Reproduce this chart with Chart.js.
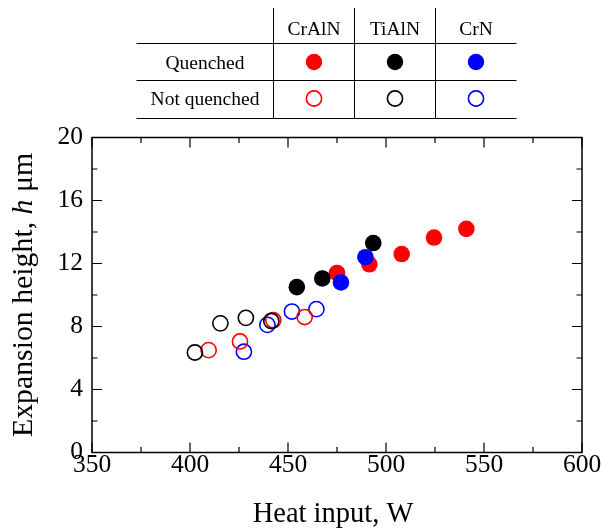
<!DOCTYPE html>
<html><head><meta charset="utf-8">
<script src="https://cdn.jsdelivr.net/npm/chart.js@4/dist/chart.umd.min.js"></script>
<style>html,body{margin:0;padding:0;background:#fff;}canvas{display:block}</style>
</head><body>
<canvas id="c" width="603" height="529"></canvas>
<script>
// ---- data ----
const crAlnQuenchedX = [475, 491.5, 508, 524.5, 541];
const crAlnQuenchedY = [11.4, 11.95, 12.6, 13.65, 14.2];
const tiAlnQuenchedX = [454.5, 467.5, 493.5];
const tiAlnQuenchedY = [10.5, 11.05, 13.3];
const crnQuenchedX = [477, 489.5];
const crnQuenchedY = [10.8, 12.4];
const crAlnNotX = [409.5, 425.5, 442.5, 458.5];
const crAlnNotY = [6.5, 7.05, 8.4, 8.6];
const tiAlnNotX = [402.5, 415.5, 428.5, 441.5];
const tiAlnNotY = [6.35, 8.2, 8.55, 8.35];
const crnNotX = [427.5, 439.5, 452, 464.5];
const crnNotY = [6.4, 8.1, 8.95, 9.1];

const xTickLabels = [350, 400, 450, 500, 550, 600];
const yTickLabels = [0, 4, 8, 12, 16, 20];

const legendColumns = ['CrAlN', 'TiAlN', 'CrN'];
const legendRows = ['Quenched', 'Not quenched'];
const legendColors = ['#ff0000', '#000000', '#0000ff'];

const xTitle = 'Heat input, W';
const yTitleParts = [['Expansion height, ', false], ['h', true], [' \u03bcm', false]];

const SERIF = '"Liberation Serif", "Times New Roman", serif';

function pts(xs, ys) { return xs.map((x, i) => ({ x: x, y: ys[i] })); }
function filled(label, xs, ys, color) {
  return { label, data: pts(xs, ys), backgroundColor: color, borderColor: color,
    borderWidth: 0, pointRadius: 8.3, pointHoverRadius: 8.3 };
}
function open(label, xs, ys, color) {
  return { label, data: pts(xs, ys), backgroundColor: 'rgba(0,0,0,0)', borderColor: color,
    borderWidth: 1.6, pointRadius: 7.6, pointHoverRadius: 7.6 };
}

// first dataset is drawn on top
const datasets = [
  filled('CrN quenched', crnQuenchedX, crnQuenchedY, legendColors[2]),
  filled('TiAlN quenched', tiAlnQuenchedX, tiAlnQuenchedY, legendColors[1]),
  filled('CrAlN quenched', crAlnQuenchedX, crAlnQuenchedY, legendColors[0]),
  open('TiAlN not quenched', tiAlnNotX, tiAlnNotY, legendColors[1]),
  open('CrAlN not quenched', crAlnNotX, crAlnNotY, legendColors[0]),
  open('CrN not quenched', crnNotX, crnNotY, legendColors[2])
];

const framePlugin = {
  id: 'frame',
  afterDraw(chart) {
    const ctx = chart.ctx;
    const a = chart.chartArea;
    const xs = chart.scales.x, ys = chart.scales.y;
    ctx.save();
    ctx.strokeStyle = '#000';
    ctx.lineWidth = 1.5;
    ctx.strokeRect(a.left, a.top, a.right - a.left, a.bottom - a.top);
    ctx.lineWidth = 1.2;
    ctx.beginPath();
    const major = 10, minor = 5.5;
    for (let i = 0; i < xTickLabels.length; i++) {
      const v = xTickLabels[i];
      const p = xs.getPixelForValue(v);
      ctx.moveTo(p, a.bottom); ctx.lineTo(p, a.bottom - major);
      ctx.moveTo(p, a.top); ctx.lineTo(p, a.top + major);
      if (i < xTickLabels.length - 1) {
        const m = xs.getPixelForValue((v + xTickLabels[i + 1]) / 2);
        ctx.moveTo(m, a.bottom); ctx.lineTo(m, a.bottom - minor);
        ctx.moveTo(m, a.top); ctx.lineTo(m, a.top + minor);
      }
    }
    for (let i = 0; i < yTickLabels.length; i++) {
      const v = yTickLabels[i];
      const p = ys.getPixelForValue(v);
      ctx.moveTo(a.left, p); ctx.lineTo(a.left + major, p);
      ctx.moveTo(a.right, p); ctx.lineTo(a.right - major, p);
      if (i < yTickLabels.length - 1) {
        const m = ys.getPixelForValue((v + yTickLabels[i + 1]) / 2);
        ctx.moveTo(a.left, m); ctx.lineTo(a.left + minor, m);
        ctx.moveTo(a.right, m); ctx.lineTo(a.right - minor, m);
      }
    }
    ctx.stroke();

    // axis titles
    ctx.fillStyle = '#000';
    ctx.font = '28.5px ' + SERIF;
    ctx.textAlign = 'center';
    ctx.textBaseline = 'alphabetic';
    ctx.fillText(xTitle, (a.left + a.right) / 2 - 4, 521.5);

    ctx.save();
    ctx.translate(32, 295);
    ctx.rotate(-Math.PI / 2);
    ctx.textAlign = 'left';
    const yFont = '29.8px ' + SERIF;
    let total = 0;
    const widths = yTitleParts.map(([t, it]) => {
      ctx.font = (it ? 'italic ' : '') + yFont;
      const w = ctx.measureText(t).width; total += w; return w;
    });
    let x0 = -total / 2;
    yTitleParts.forEach(([t, it], i) => {
      ctx.font = (it ? 'italic ' : '') + yFont;
      ctx.fillText(t, x0, 0);
      x0 += widths[i];
    });
    ctx.restore();

    // legend table
    ctx.lineWidth = 1;
    ctx.strokeStyle = '#000';
    const tl = 136.5, tr = 516.5;
    const vx = [273.5, 354.5, 435.5];
    const hy = [43.5, 80.5, 118.5];
    ctx.beginPath();
    hy.forEach(y => { ctx.moveTo(tl, y); ctx.lineTo(tr, y); });
    vx.forEach(x => { ctx.moveTo(x, 8); ctx.lineTo(x, 118.5); });
    ctx.stroke();
    const colX = [(vx[0] + vx[1]) / 2, (vx[1] + vx[2]) / 2, (vx[2] + tr) / 2];
    ctx.font = '19.5px ' + SERIF;
    ctx.textAlign = 'center';
    legendColumns.forEach((c, i) => ctx.fillText(c, colX[i], 34.5));
    const rowY = [62, 98.5];
    const rowBase = [69, 105];
    legendRows.forEach((r, j) => ctx.fillText(r, 205, rowBase[j]));
    legendColors.forEach((col, i) => {
      ctx.beginPath();
      ctx.fillStyle = col;
      ctx.arc(colX[i], rowY[0], 8.2, 0, Math.PI * 2);
      ctx.fill();
      ctx.beginPath();
      ctx.strokeStyle = col;
      ctx.lineWidth = 1.6;
      ctx.arc(colX[i], rowY[1], 7.6, 0, Math.PI * 2);
      ctx.stroke();
    });
    ctx.restore();
  }
};

new Chart(document.getElementById('c'), {
  type: 'scatter',
  data: { datasets },
  options: {
    responsive: false,
    animation: false,
    devicePixelRatio: 1,
    layout: { padding: { top: 137.5, right: 21, left: 0, bottom: 0 } },
    plugins: { legend: { display: false }, tooltip: { enabled: false } },
    scales: {
      x: {
        type: 'linear', min: 350, max: 600,
        afterBuildTicks: s => { s.ticks = xTickLabels.map(v => ({ value: v })); },
        afterFit: s => { s.height = 76.5; },
        grid: { display: false, drawTicks: false },
        border: { display: false },
        ticks: { color: '#000', padding: 0, maxRotation: 0, autoSkip: false,
          font: { family: SERIF, size: 25.5, lineHeight: 1.0 } }
      },
      y: {
        type: 'linear', min: 0, max: 20,
        afterBuildTicks: s => { s.ticks = yTickLabels.map(v => ({ value: v })); },
        afterFit: s => { s.width = 92; },
        grid: { display: false, drawTicks: false },
        border: { display: false },
        ticks: { color: '#000', padding: 9, autoSkip: false,
          font: { family: SERIF, size: 25.5, lineHeight: 1.0 } }
      }
    }
  },
  plugins: [framePlugin]
});
</script></body></html>
